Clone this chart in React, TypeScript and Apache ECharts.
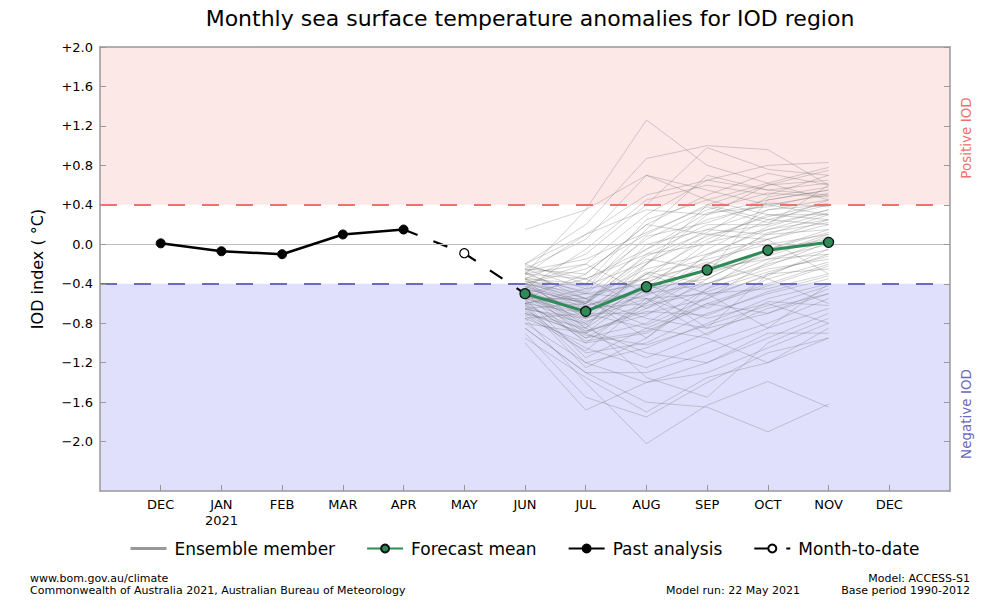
import React, { useEffect, useRef } from 'react';
import * as echarts from 'echarts';

const monthLabels = ['DEC', 'JAN\n2021', 'FEB', 'MAR', 'APR', 'MAY', 'JUN', 'JUL', 'AUG', 'SEP', 'OCT', 'NOV', 'DEC'];
const monthIdx = [0, 1, 2, 3, 4, 5, 6, 7, 8, 9, 10, 11, 12];
const yTicks = [2.0, 1.6, 1.2, 0.8, 0.4, 0, -0.4, -0.8, -1.2, -1.6, -2.0];

const pastX = [0, 1, 2, 3, 4];
const pastValues = [0.01, -0.07, -0.1, 0.1, 0.15];

const mtdX = [4, 5, 6];
const mtdValues = [0.15, -0.09, -0.5];

const forecastX = [6, 7, 8, 9, 10, 11];
const forecastMean = [-0.5, -0.68, -0.43, -0.26, -0.06, 0.02];

// ensemble members: JUN..NOV
const ensemble: number[][] = [
  [-0.30, 0.35, 1.26, 0.80, 0.62, 0.45],
  [-0.20, 0.20, 0.87, 1.00, 0.96, 0.60],
  [-0.35, -0.10, 0.40, 0.98, 0.76, 0.70],
  [-0.25, 0.05, 0.70, 0.45, 0.62, 0.78],
  [0.15, 0.35, 0.70, 0.55, 0.40, 0.30],
  [-0.40, -0.20, 0.30, 0.65, 0.80, 0.83],
  [-0.45, -0.05, 0.45, 0.60, 0.50, 0.70],
  [-0.30, 0.10, 0.50, 0.65, 0.55, 0.62],
  [-0.55, -0.30, 0.20, 0.50, 0.72, 0.60],
  [-0.40, -0.25, 0.10, 0.40, 0.60, 0.75],
  [-0.20, 0.10, 0.35, 0.30, 0.45, 0.55],
  [-0.35, -0.40, 0.05, 0.35, 0.52, 0.48],
  [-0.60, -0.50, -0.05, 0.25, 0.40, 0.50],
  [-0.45, -0.60, -0.20, 0.15, 0.35, 0.40],
  [-0.30, -0.35, -0.10, 0.20, 0.20, 0.35],
  [-0.50, -0.70, -0.30, 0.05, 0.30, 0.30],
  [-0.55, -0.55, -0.25, -0.10, 0.15, 0.25],
  [-0.25, -0.45, -0.35, 0.10, 0.05, 0.20],
  [-0.40, -0.75, -0.50, -0.20, 0.10, 0.15],
  [-0.65, -0.80, -0.40, -0.05, 0.25, 0.20],
  [-0.50, -0.65, -0.60, -0.30, -0.10, 0.10],
  [-0.35, -0.85, -0.45, -0.35, -0.05, 0.05],
  [-0.70, -0.90, -0.65, -0.40, -0.20, -0.05],
  [-0.45, -0.60, -0.15, -0.25, -0.15, -0.10],
  [-0.60, -0.95, -0.80, -0.45, -0.25, -0.15],
  [-0.55, -0.70, -0.70, -0.55, -0.30, -0.25],
  [-0.75, -1.00, -0.90, -0.60, -0.40, -0.20],
  [-0.30, -0.50, -0.55, -0.50, -0.45, -0.30],
  [-0.65, -1.10, -1.00, -0.70, -0.50, -0.35],
  [-0.80, -1.20, -1.05, -0.80, -0.55, -0.40],
  [-0.50, -0.90, -1.15, -0.90, -0.65, -0.50],
  [-0.70, -1.05, -1.25, -1.00, -0.80, -0.55],
  [-0.85, -1.30, -1.30, -1.10, -0.85, -0.65],
  [-0.60, -1.20, -1.40, -1.20, -0.95, -0.70],
  [-1.00, -1.68, -1.40, -1.30, -1.05, -0.80],
  [-0.90, -1.55, -1.75, -1.40, -1.10, -0.95],
  [-0.75, -1.40, -2.02, -1.63, -1.39, -1.65],
  [-0.85, -1.30, -1.60, -1.65, -1.90, -1.62],
  [-0.95, -1.35, -1.70, -1.35, -1.20, -0.85],
  [-0.50, -0.80, -1.35, -1.55, -1.00, -0.75],
  [-0.40, -0.55, -0.75, -0.85, -0.70, -0.45],
  [-0.55, -0.75, -0.30, -0.15, 0.00, 0.10],
  [-0.35, -0.60, -0.10, 0.00, 0.35, 0.45],
  [-0.25, -0.30, 0.20, 0.10, 0.20, 0.60],
  [-0.45, -0.85, -0.20, 0.30, 0.60, 0.65],
  [-0.60, -0.70, -0.85, -0.60, -0.70, -0.50],
  [-0.40, -0.50, -0.40, -0.65, -0.35, -0.60],
  [-0.50, -1.00, -0.55, -0.75, -0.60, -0.80],
  [-0.70, -0.85, -1.10, -1.20, -0.90, -0.90],
  [-0.30, -0.20, -0.50, -0.40, -0.15, 0.00],
  [-0.65, -0.60, 0.00, 0.15, 0.10, 0.30],
  [-0.20, -0.40, 0.25, 0.45, 0.30, 0.25],
  [-0.55, -1.15, -0.85, -0.95, -1.20, -0.95],
  [-0.45, -0.95, -0.60, -0.10, 0.05, -0.30],
  [-0.75, -0.70, -0.20, 0.40, 0.25, 0.40],
  [-0.35, -0.55, -0.95, -0.45, -0.05, 0.15],
  [-0.60, -0.45, 0.15, 0.70, 0.55, 0.50],
  [-0.50, -0.35, -0.65, -0.30, 0.45, 0.55],
  [-0.40, -0.65, -0.30, -0.50, -0.85, -0.40],
  [-0.80, -0.90, -0.45, -0.85, -0.30, -0.10],
  [-0.28, -0.55, -0.35, -0.20, 0.05, 0.25],
  [-0.48, -0.78, -0.62, -0.48, -0.28, -0.12],
  [-0.62, -0.88, -0.72, -0.35, -0.05, 0.12],
  [-0.38, -0.42, -0.18, 0.08, 0.28, 0.42],
  [-0.52, -0.62, -0.48, -0.12, 0.18, 0.35],
  [-0.58, -0.98, -0.88, -0.62, -0.42, -0.22],
  [-0.42, -0.72, -0.28, -0.40, -0.22, 0.02],
  [-0.72, -1.08, -0.58, -0.28, -0.12, 0.08],
  [-0.33, -0.48, 0.08, 0.22, 0.42, 0.38],
  [-0.47, -0.68, -0.52, -0.25, 0.12, 0.22],
  [-0.68, -0.92, -1.02, -0.82, -0.62, -0.42],
  [-0.22, -0.35, -0.05, 0.32, 0.38, 0.52],
  [-0.57, -0.82, -0.38, -0.18, -0.35, -0.18],
  [-0.43, -0.58, -0.82, -0.55, -0.18, 0.05],
  [-0.62, -1.25, -0.95, -0.52, -0.32, -0.05],
  [-0.37, -0.62, -0.45, 0.02, 0.15, 0.32],
  [-0.53, -0.58, -0.12, 0.12, 0.48, 0.58],
  [-0.46, -0.88, -0.68, -0.72, -0.48, -0.32],
  [-0.27, -0.15, 0.12, 0.38, 0.22, 0.45],
  [-0.66, -0.75, -0.55, -0.92, -0.58, -0.62],
];

const FONT = 'DejaVu Sans';

function fmtY(v: number): string {
  const r = Math.round(v * 10) / 10;
  if (r > 0) return '+' + r.toFixed(1);
  if (r === 0) return '0.0';
  return '\u2212' + Math.abs(r).toFixed(1);
}

export default function App() {
  const ref = useRef<HTMLDivElement>(null);
  useEffect(() => {
    const chart = echarts.init(ref.current!, null, { renderer: 'svg' });
    const ensembleSeries = ensemble.map((m) => ({
      name: 'Ensemble member',
      type: 'line',
      data: m.map((v, i) => [forecastX[i], v]),
      symbol: 'none',
      z: 2,
      silent: true,
      lineStyle: { color: 'rgba(110,110,110,0.3)', width: 1 },
    }));
    const option: any = {
      animation: false,
      title: {
        text: 'Monthly sea surface temperature anomalies for IOD region',
        left: 525,
        top: 2,
        textAlign: 'center',
        textStyle: { fontFamily: FONT, fontSize: 22, fontWeight: 'normal', color: '#000' },
      },
      grid: { left: 100, right: 50, top: 47, bottom: 109, containLabel: false },
      legend: {
        left: 124,
        top: 535,
        itemWidth: 36,
        itemHeight: 10,
        itemGap: 31,
        textStyle: { fontFamily: FONT, fontSize: 17, color: '#000', padding: [0, 0, 0, 3] },
        data: [
          { name: 'Ensemble member', itemStyle: { opacity: 0 }, lineStyle: { color: '#999', opacity: 1, width: 3 } },
          'Forecast mean',
          'Past analysis',
          'Month-to-date',
        ],
      },
      xAxis: [
        {
          type: 'value',
          min: -1,
          max: 13,
          position: 'bottom',
          z: 10,
          axisLine: { show: true, onZero: false, lineStyle: { color: '#999', width: 1.5 } },
          axisTick: { show: true, inside: true, length: 6, customValues: monthIdx, lineStyle: { color: '#999' } },
          axisLabel: {
            customValues: monthIdx,
            formatter: (v: number) => monthLabels[Math.round(v)] ?? '',
            fontFamily: FONT,
            fontSize: 13,
            color: '#000',
            margin: 5,
            lineHeight: 16,
          },
          splitLine: { show: false },
        },
        {
          type: 'value',
          min: -1,
          max: 13,
          position: 'top',
          z: 10,
          axisLine: { show: true, onZero: false, lineStyle: { color: '#999', width: 1.5 } },
          axisTick: { show: false },
          axisLabel: { show: false },
          splitLine: { show: false },
        },
      ],
      yAxis: [
        {
          type: 'value',
          min: -2.5,
          max: 2.0,
          position: 'left',
          z: 10,
          name: 'IOD index ( \u00B0C)',
          nameLocation: 'middle',
          nameGap: 55,
          nameTextStyle: { fontFamily: FONT, fontSize: 16, color: '#000' },
          axisLine: { show: true, onZero: false, lineStyle: { color: '#999', width: 1.5 } },
          axisTick: { show: true, inside: true, length: 6, customValues: yTicks, lineStyle: { color: '#999' } },
          axisLabel: {
            customValues: yTicks,
            formatter: fmtY,
            fontFamily: FONT,
            fontSize: 13,
            color: '#000',
            margin: 7,
          },
          splitLine: { show: false },
        },
        {
          type: 'value',
          min: -2.5,
          max: 2.0,
          position: 'right',
          z: 10,
          axisLine: { show: true, onZero: false, lineStyle: { color: '#999', width: 1.5 } },
          axisTick: { show: true, inside: true, length: 6, customValues: yTicks, lineStyle: { color: '#999' } },
          axisLabel: { show: false },
          splitLine: { show: false },
        },
      ],
      series: [
        {
          name: 'bands',
          type: 'line',
          data: [[-1, 0]],
          symbol: 'none',
          lineStyle: { opacity: 0 },
          silent: true,
          z: 1,
          markArea: {
            silent: true,
            data: [
              [{ yAxis: 0.4, itemStyle: { color: '#fde8e8' } }, { yAxis: 2.0 }],
              [{ yAxis: -2.5, itemStyle: { color: '#e0e0fc' } }, { yAxis: -0.4 }],
            ],
          },
          markLine: {
            silent: true,
            symbol: ['none', 'none'],
            label: { show: false },
            data: [{ yAxis: 0, lineStyle: { color: '#c0c0c0', width: 1, type: 'solid' } }],
          },
        },
        ...ensembleSeries,
        {
          name: 'thresholds',
          type: 'line',
          data: [[-1, 0]],
          symbol: 'none',
          lineStyle: { opacity: 0 },
          silent: true,
          z: 3,
          markLine: {
            silent: true,
            symbol: ['none', 'none'],
            label: { show: false },
            data: [
              { yAxis: 0.4, lineStyle: { color: '#f07070', width: 2.2, type: [17, 17] } },
              { yAxis: -0.4, lineStyle: { color: '#6a6abf', width: 2.2, type: [17, 17] } },
            ],
          },
        },
        {
          name: 'Month-to-date',
          type: 'line',
          z: 4,
          data: mtdX.map((x, i) => ({
            value: [x, mtdValues[i]],
            symbol: i === 1 ? 'circle' : 'none',
          })),
          symbol: 'circle',
          symbolSize: 9,
          showAllSymbol: true,
          itemStyle: { color: '#fff', borderColor: '#000', borderWidth: 1.2 },
          lineStyle: { color: '#000', width: 2.2, type: [15, 17] },
        },
        {
          name: 'Past analysis',
          type: 'line',
          z: 5,
          data: pastX.map((x, i) => [x, pastValues[i]]),
          symbol: 'circle',
          symbolSize: 9,
          itemStyle: { color: '#000', borderColor: '#000', borderWidth: 1 },
          lineStyle: { color: '#000', width: 2.5 },
        },
        {
          name: 'Forecast mean',
          type: 'line',
          z: 6,
          data: forecastX.map((x, i) => [x, forecastMean[i]]),
          symbol: 'circle',
          symbolSize: 10,
          itemStyle: { color: '#2e8b57', borderColor: '#111', borderWidth: 1.3 },
          lineStyle: { color: '#2e8b57', width: 3 },
        },
      ],
      graphic: [
        {
          type: 'text',
          x: 966,
          y: 138,
          rotation: Math.PI / 2,
          style: { text: 'Positive IOD', fill: '#f07070', font: `13.5px "${FONT}"`, align: 'center', verticalAlign: 'middle' },
        },
        {
          type: 'text',
          x: 966,
          y: 414,
          rotation: Math.PI / 2,
          style: { text: 'Negative IOD', fill: '#6a6abf', font: `13.5px "${FONT}"`, align: 'center', verticalAlign: 'middle' },
        },
        {
          type: 'text',
          x: 30,
          y: 578,
          style: { text: 'www.bom.gov.au/climate', fill: '#000', font: `11px "${FONT}"`, verticalAlign: 'middle' },
        },
        {
          type: 'text',
          x: 30,
          y: 590,
          style: {
            text: 'Commonwealth of Australia 2021, Australian Bureau of Meteorology',
            fill: '#000',
            font: `11px "${FONT}"`,
            verticalAlign: 'middle',
          },
        },
        {
          type: 'text',
          x: 800,
          y: 590,
          style: { text: 'Model run: 22 May 2021', fill: '#000', font: `11px "${FONT}"`, align: 'right', verticalAlign: 'middle' },
        },
        {
          type: 'text',
          x: 970,
          y: 578,
          style: { text: 'Model: ACCESS-S1', fill: '#000', font: `11px "${FONT}"`, align: 'right', verticalAlign: 'middle' },
        },
        {
          type: 'text',
          x: 970,
          y: 590,
          style: { text: 'Base period 1990-2012', fill: '#000', font: `11px "${FONT}"`, align: 'right', verticalAlign: 'middle' },
        },
      ],
    };
    chart.setOption(option);
    return () => chart.dispose();
  }, []);
  return <div ref={ref} style={{ position: 'absolute', left: 0, top: 0, width: 1000, height: 600 }} />;
}
